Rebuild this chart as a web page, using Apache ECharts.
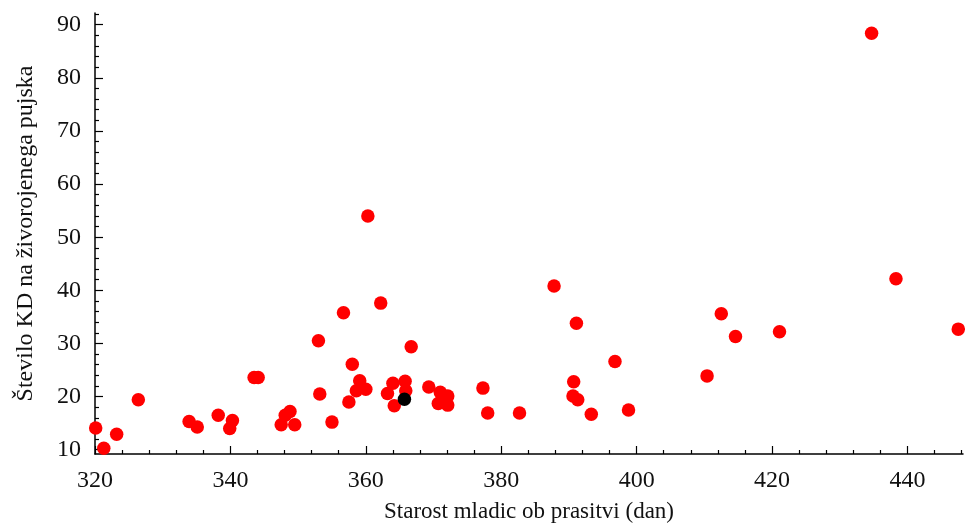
<!DOCTYPE html>
<html>
<head>
<meta charset="utf-8">
<script src="https://cdn.jsdelivr.net/npm/echarts@6/dist/echarts.min.js"></script>
<style>html,body{margin:0;padding:0;background:#fff;}#c{width:965px;height:528px;}</style>
</head>
<body>
<div id="c"></div>
<script>
const xTitle = 'Starost mladic ob prasitvi (dan)';
const yTitle = 'Število KD na živorojenega pujska';
const xTicks = [320, 340, 360, 380, 400, 420, 440];
const yTicks = [10, 20, 30, 40, 50, 60, 70, 80, 90];
const xMinorTicks = [324, 328, 332, 336, 344, 348, 352, 356, 364, 368, 372, 376, 384, 388, 392, 396, 404, 408, 412, 416, 424, 428, 432, 436, 444, 448];
const yMinorTicks = [12, 14, 16, 18, 22, 24, 26, 28, 32, 34, 36, 38, 42, 44, 46, 48, 52, 54, 56, 58, 62, 64, 66, 68, 72, 74, 76, 78, 82, 84, 86, 88, 92];
const ageX = [320.1, 321.3, 323.2, 326.4, 333.9, 335.1, 338.2, 340.3, 339.9, 343.5, 344.1, 347.5, 348.1, 348.8, 349.5, 353.0, 353.2, 355.0, 356.7, 357.5, 358.0, 358.6, 359.1, 360.0, 360.3, 362.2, 363.2, 364.0, 364.2, 365.8, 365.9, 366.7, 369.3, 370.7, 371.0, 372.1, 372.1, 377.3, 378.0, 382.7, 387.8, 390.6, 390.7, 391.1, 391.3, 393.3, 396.8, 398.8, 410.4, 412.5, 414.6, 421.1, 434.7, 438.3, 447.5];
const kdY = [14.1, 10.3, 12.9, 19.4, 15.3, 14.3, 16.5, 15.5, 14.0, 23.6, 23.6, 14.7, 16.5, 17.2, 14.7, 30.5, 20.5, 15.2, 35.8, 19.0, 26.1, 21.1, 23.0, 21.4, 54.0, 37.6, 20.6, 22.5, 18.3, 22.9, 21.1, 29.4, 21.8, 18.7, 20.8, 20.1, 18.4, 21.6, 16.9, 16.9, 40.8, 20.1, 22.8, 33.8, 19.4, 16.7, 26.6, 17.5, 23.9, 35.6, 31.3, 32.2, 88.4, 42.2, 32.7];
const highlightX = [365.7];
const highlightY = [19.5];

const X_MIN = 320, X_MAX = 448.2, Y_MIN = 9.2, Y_MAX = 92.2;
const FONT = '"Liberation Serif", "DejaVu Serif", serif';

const chart = echarts.init(document.getElementById('c'), null, {renderer: 'canvas'});
const mainData = ageX.map((x, i) => [x, kdY[i]]);
const hlData = highlightX.map((x, i) => [x, highlightY[i]]);

chart.setOption({
  animation: false,
  backgroundColor: '#ffffff',
  grid: {left: 95, right: 2, top: 13, bottom: 74, containLabel: false},
  xAxis: [
    {
      type: 'value', min: X_MIN, max: X_MAX,
      name: xTitle, nameLocation: 'middle', nameGap: 46,
      nameTextStyle: {fontFamily: FONT, fontSize: 23, color: '#111'},
      axisLine: {show: true, lineStyle: {color: '#000', width: 1.5}},
      axisTick: {show: true, inside: true, length: 8, customValues: xTicks, lineStyle: {color: '#000', width: 1.2}},
      axisLabel: {show: true, customValues: xTicks, margin: 15, fontFamily: FONT, fontSize: 24, color: '#111'},
      splitLine: {show: false}
    },
    {
      type: 'value', min: X_MIN, max: X_MAX, position: 'bottom', gridIndex: 0,
      axisLine: {show: false},
      axisTick: {show: true, inside: true, length: 4, customValues: xMinorTicks, lineStyle: {color: '#000', width: 1.2}},
      axisLabel: {show: false},
      splitLine: {show: false}
    }
  ],
  yAxis: [
    {
      type: 'value', min: Y_MIN, max: Y_MAX,
      name: yTitle, nameLocation: 'middle', nameGap: 57, nameRotate: 90,
      nameTextStyle: {fontFamily: FONT, fontSize: 24, color: '#111'},
      axisLine: {show: true, lineStyle: {color: '#000', width: 1.5}},
      axisTick: {show: true, inside: true, length: 8, customValues: yTicks, lineStyle: {color: '#000', width: 1.2}},
      axisLabel: {show: true, customValues: yTicks, margin: 14, fontFamily: FONT, fontSize: 24, color: '#111'},
      splitLine: {show: false}
    },
    {
      type: 'value', min: Y_MIN, max: Y_MAX, position: 'left', gridIndex: 0,
      axisLine: {show: false},
      axisTick: {show: true, inside: true, length: 4, customValues: yMinorTicks, lineStyle: {color: '#000', width: 1.2}},
      axisLabel: {show: false},
      splitLine: {show: false}
    }
  ],
  series: [
    {
      type: 'scatter', xAxisIndex: 0, yAxisIndex: 0,
      data: mainData, symbol: 'circle', symbolSize: 13.5, clip: false,
      itemStyle: {color: '#ff0000', opacity: 1}
    },
    {
      type: 'scatter', xAxisIndex: 0, yAxisIndex: 0,
      data: hlData, symbol: 'circle', symbolSize: 13.5, clip: false, z: 3,
      itemStyle: {color: '#000000', opacity: 1}
    }
  ]
});
</script>
</body>
</html>
